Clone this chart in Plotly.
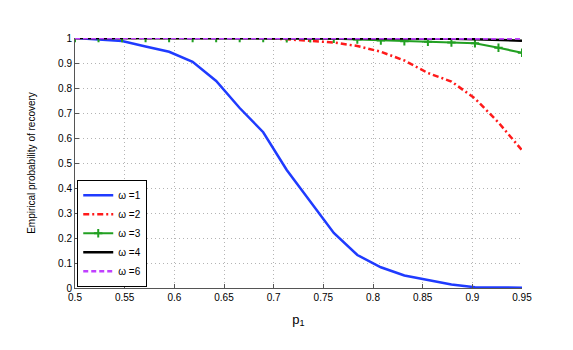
import numpy as np
import plotly.graph_objects as go

# p_1 sampled at 20 points between 0.5 and 0.95
p1 = np.linspace(0.5, 0.95, 20)

w1 = [1.0, 0.995, 0.988, 0.966, 0.945, 0.905, 0.828, 0.72, 0.623, 0.472,
      0.345, 0.22, 0.132, 0.083, 0.05, 0.033, 0.014, 0.003, 0.003, 0.001]
w2 = [1.0, 1.0, 1.0, 1.0, 1.0, 1.0, 1.0, 1.0, 1.0, 0.995,
      0.987, 0.982, 0.968, 0.945, 0.91, 0.86, 0.826, 0.758, 0.662, 0.551]
w3 = [1.0, 1.0, 1.0, 1.0, 1.0, 1.0, 1.0, 1.0, 1.0, 0.999,
      0.999, 0.997, 0.994, 0.99, 0.987, 0.985, 0.982, 0.979, 0.961, 0.941]
w4 = [1.0, 1.0, 1.0, 1.0, 1.0, 1.0, 1.0, 1.0, 1.0, 1.0,
      1.0, 1.0, 1.0, 1.0, 1.0, 0.998, 0.997, 0.995, 0.992, 0.989]
w6 = [1.0, 1.0, 1.0, 1.0, 1.0, 1.0, 1.0, 1.0, 1.0, 1.0,
      1.0, 1.0, 1.0, 1.0, 1.0, 1.0, 1.0, 0.999, 0.999, 0.998]

x_ticks = [0.5, 0.55, 0.6, 0.65, 0.7, 0.75, 0.8, 0.85, 0.9, 0.95]
y_ticks = [0, 0.1, 0.2, 0.3, 0.4, 0.5, 0.6, 0.7, 0.8, 0.9, 1]

font = "Liberation Sans, Arial, sans-serif"

fig = go.Figure()
fig.add_trace(go.Scatter(x=p1, y=w1, name="ω =1", mode="lines",
                         line=dict(color="#1f3bff", width=2.5)))
fig.add_trace(go.Scatter(x=p1, y=w2, name="ω =2", mode="lines",
                         line=dict(color="#ff1a1a", width=2.5, dash="6px,3px,2px,3px")))
fig.add_trace(go.Scatter(x=p1, y=w3, name="ω =3", mode="lines+markers",
                         line=dict(color="#22a022", width=2.2),
                         marker=dict(symbol="cross-thin", size=6,
                                     line=dict(color="#22a022", width=2))))
fig.add_trace(go.Scatter(x=p1, y=w4, name="ω =4", mode="lines",
                         line=dict(color="black", width=2.5)))
fig.add_trace(go.Scatter(x=p1, y=w6, name="ω =6", mode="lines",
                         line=dict(color="#c040ff", width=2.5, dash="5px,3px")))

axis_common = dict(
    showgrid=True, gridcolor="#b4b4b4", griddash="1px,3px", gridwidth=1,
    showline=True, linecolor="#555555", linewidth=1,
    ticks="inside", ticklen=4, tickcolor="#555555",
    zeroline=False, automargin=False,
    tickfont=dict(family=font, size=10, color="black"),
)

# the page body adds an 8px offset, so margins are shifted to compensate
fig.update_layout(
    width=573, height=350,
    margin=dict(l=67, r=59, t=30, b=70),
    paper_bgcolor="white", plot_bgcolor="white",
    font=dict(family=font, size=10, color="black"),
    xaxis=dict(range=[0.5, 0.95], tickvals=x_ticks,
               title=dict(text="p<sub>1</sub>", font=dict(size=13), standoff=12),
               **axis_common),
    yaxis=dict(range=[0, 1.0], tickvals=y_ticks,
               title=dict(text="Empirical probability of recovery",
                          font=dict(size=10), standoff=20),
               **axis_common),
    legend=dict(x=0.005, y=0.005, xanchor="left", yanchor="bottom",
                bgcolor="white", bordercolor="black", borderwidth=1,
                font=dict(family=font, size=10), tracegroupgap=0),
)

fig.write_html("out.html")
